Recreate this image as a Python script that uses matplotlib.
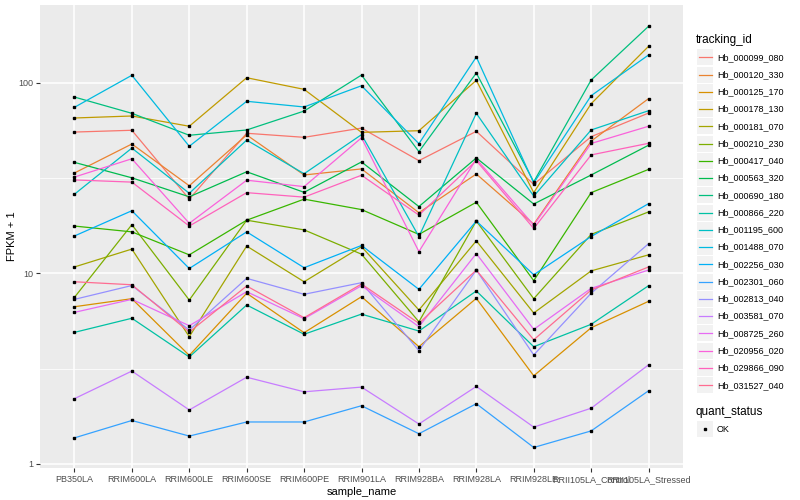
import numpy as np
import matplotlib.pyplot as plt
from matplotlib.patches import Rectangle
from matplotlib.lines import Line2D
from matplotlib.ticker import FixedLocator, NullFormatter

plt.rcParams['font.family'] = ['Liberation Sans', 'DejaVu Sans']

samples = ["PB350LA", "RRIM600LA", "RRIM600LE", "RRIM600SE", "RRIM600PE",
           "RRIM901LA", "RRIM928BA", "RRIM928LA", "RRIM928LE",
           "RRII105LA_Control", "RRII105LA_Stressed"]

tracking_ids = ["Hb_000099_080", "Hb_000120_330", "Hb_000125_170", "Hb_000178_130",
                "Hb_000181_070", "Hb_000210_230", "Hb_000417_040", "Hb_000563_320",
                "Hb_000690_180", "Hb_000866_220", "Hb_001195_600", "Hb_001488_070",
                "Hb_002256_030", "Hb_002301_060", "Hb_002813_040", "Hb_003581_070",
                "Hb_008725_260", "Hb_020956_020", "Hb_029866_090", "Hb_031527_040"]

# FPKM + 1 per sample
hb_000099_080 = [55.1, 56.3, 24.5, 54.3, 51.7, 57.8, 39.0, 55.6, 29.3, 52.1, 69.3]
hb_000120_330 = [33.6, 47.7, 28.8, 53.2, 32.8, 35.3, 20.8, 33.2, 18.1, 49.4, 82.5]
hb_000125_170 = [6.68, 7.36, 3.71, 7.86, 4.88, 7.54, 4.12, 7.39, 2.90, 5.18, 7.13]
hb_000178_130 = [65.3, 66.9, 59.1, 106.2, 92.3, 54.9, 56.0, 102.9, 26.5, 77.6, 155.2]
hb_000181_070 = [10.8, 13.4, 4.65, 13.9, 9.03, 13.8, 6.42, 14.8, 6.19, 10.3, 12.5]
hb_000210_230 = [7.48, 18.0, 7.24, 19.0, 16.9, 12.6, 5.57, 18.8, 7.36, 16.0, 21.0]
hb_000417_040 = [17.7, 16.5, 12.5, 19.0, 24.5, 21.6, 16.0, 23.6, 9.15, 26.5, 35.1]
hb_000563_320 = [38.2, 31.7, 25.2, 34.1, 26.6, 38.4, 22.4, 40.3, 23.1, 32.8, 47.0]
hb_000690_180 = [84.1, 69.1, 53.0, 56.5, 71.0, 109.7, 43.5, 112.4, 30.2, 103.3, 197.7]
hb_000866_220 = [4.90, 5.81, 3.64, 6.82, 4.79, 6.11, 4.98, 8.08, 4.12, 5.40, 8.61]
hb_001195_600 = [26.0, 45.4, 26.3, 50.0, 33.3, 53.4, 15.6, 69.1, 25.4, 56.5, 71.3]
hb_001488_070 = [74.3, 109.4, 46.4, 79.9, 74.6, 96.4, 47.9, 136.4, 29.8, 85.5, 139.8]
hb_002256_030 = [15.7, 21.3, 10.6, 16.5, 10.7, 14.0, 8.24, 18.8, 9.83, 15.6, 23.2]
hb_002301_060 = [1.37, 1.69, 1.40, 1.66, 1.66, 2.02, 1.44, 2.07, 1.22, 1.49, 2.42]
hb_002813_040 = [7.30, 8.63, 5.04, 9.41, 7.76, 8.93, 3.93, 10.4, 3.73, 7.86, 14.3]
hb_003581_070 = [2.20, 3.07, 1.92, 2.85, 2.39, 2.53, 1.62, 2.55, 1.56, 1.96, 3.31]
hb_008725_260 = [6.24, 7.30, 5.31, 8.01, 5.78, 8.61, 5.25, 12.7, 5.08, 8.34, 10.4]
hb_020956_020 = [32.0, 39.9, 18.3, 30.8, 28.5, 51.4, 13.0, 39.8, 17.9, 48.0, 59.1]
hb_029866_090 = [30.9, 30.1, 17.7, 26.5, 25.1, 32.7, 20.2, 39.0, 17.2, 41.8, 48.1]
hb_031527_040 = [9.03, 8.71, 4.92, 8.58, 5.85, 8.79, 5.47, 10.4, 4.48, 8.17, 10.8]

series = [hb_000099_080, hb_000120_330, hb_000125_170, hb_000178_130, hb_000181_070,
          hb_000210_230, hb_000417_040, hb_000563_320, hb_000690_180, hb_000866_220,
          hb_001195_600, hb_001488_070, hb_002256_030, hb_002301_060, hb_002813_040,
          hb_003581_070, hb_008725_260, hb_020956_020, hb_029866_090, hb_031527_040]

# ggplot default hue palette, 20 levels
colors = ["#F8766D", "#EA8331", "#D89000", "#C09B00", "#A3A500", "#7CAE00", "#39B600",
          "#00BB4E", "#00BF7D", "#00C1A3", "#00BFC4", "#00BAE0", "#00B0F6", "#35A2FF",
          "#9590FF", "#C77CFF", "#E76BF3", "#FA62DB", "#FF62BC", "#FF6C91"]

W, H = 800, 500
fig = plt.figure(figsize=(8, 5), dpi=100)

def fx(px):
    return px / W

def fy(py):
    return 1 - py / H

ax = fig.add_axes([fx(40), fy(468), fx(683 - 40), (468 - 5) / H])
ax.set_facecolor("#EBEBEB")
for s in ax.spines.values():
    s.set_visible(False)

x = np.arange(len(samples))
for vals, c in zip(series, colors):
    ax.plot(x, vals, color=c, lw=0.9, zorder=2)
for vals in series:
    ax.plot(x, vals, "s", color="black", ms=2.1, ls="none", zorder=3)

ax.set_yscale("log")
ax.set_ylim(0.952, 255.7)
ax.set_xlim(-0.6, len(samples) - 0.4)
ax.set_yticks([1, 10, 100])
ax.set_yticklabels(["1", "10", "100"])
ax.yaxis.set_minor_locator(FixedLocator([10 ** 0.5, 10 ** 1.5]))
ax.yaxis.set_minor_formatter(NullFormatter())
ax.set_xticks(x)
ax.set_xticklabels(samples)
ax.tick_params(which="minor", length=0)
ax.tick_params(which="major", length=3, width=0.8, color="#333333",
               labelcolor="#4D4D4D", labelsize=6.5, pad=2)
ax.grid(which="major", color="white", lw=1.1)
ax.grid(which="minor", axis="y", color="white", lw=0.55)
ax.set_axisbelow(True)

ax.set_xlabel("sample_name", fontsize=8, labelpad=2)
fig.text(fx(12), fy(236.5), "FPKM + 1", fontsize=8, rotation=90,
         ha="center", va="center")

# legend: tracking_id
fig.text(fx(696), fy(40), "tracking_id", fontsize=8.5, va="center", ha="left")
for i, (tid, c) in enumerate(zip(tracking_ids, colors)):
    yc = 57.3 + 17.26 * i
    fig.patches.append(Rectangle((fx(697), fy(yc + 8)), fx(16), 16 / H,
                                 transform=fig.transFigure, facecolor="#F2F2F2",
                                 edgecolor="none"))
    fig.lines.append(Line2D([fx(698.5), fx(711.5)], [fy(yc), fy(yc)],
                            transform=fig.transFigure, color=c, lw=0.9))
    fig.text(fx(717), fy(yc), tid, fontsize=6.5, va="center", ha="left")

# legend: quant_status
fig.text(fx(696), fy(411.7), "quant_status", fontsize=8.5, va="center", ha="left")
fig.patches.append(Rectangle((fx(697), fy(429 + 8)), fx(16), 16 / H,
                             transform=fig.transFigure, facecolor="#F2F2F2",
                             edgecolor="none"))
fig.lines.append(Line2D([fx(705)], [fy(429)], transform=fig.transFigure,
                        marker="s", color="black", ms=2.1, ls="none"))
fig.text(fx(717), fy(429), "OK", fontsize=6.5, va="center", ha="left")

fig.savefig("out.png", dpi=100)
